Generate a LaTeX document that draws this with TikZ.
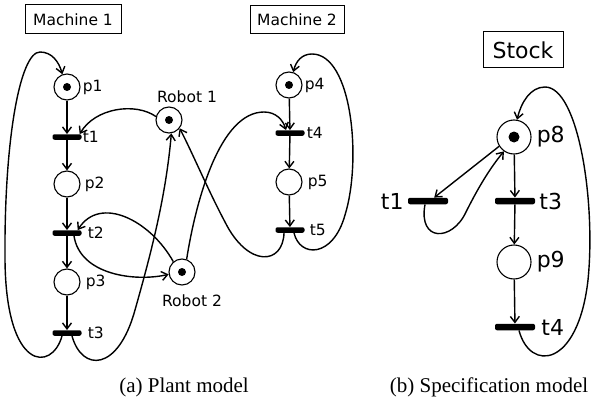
\documentclass[tikz,border=0pt]{standalone}
\usepackage{fontspec}
\setmainfont{Liberation Serif}
\newfontfamily\lblfont{DejaVu Sans}
\usetikzlibrary{arrows.meta}
\begin{document}
\begin{tikzpicture}[x=1pt,y=-1pt,
 place/.style={circle,draw,line width=1.1pt,minimum size=26pt,inner sep=0pt},
 bigplace/.style={place,minimum size=34pt},
 trans/.style={rectangle,fill=black,minimum width=29pt,minimum height=5.5pt,inner sep=0pt,rounded corners=2pt},
 bigtrans/.style={trans,minimum width=40pt,minimum height=6.5pt},
 arc/.style={draw,line width=1.4pt,-{Straight Barb[length=6pt,width=9pt,line width=1.4pt]}},
 lbl/.style={font=\lblfont\fontsize{15.5}{17}\selectfont,inner sep=0pt},
 biglbl/.style={font=\lblfont\fontsize{22}{25}\selectfont,inner sep=0pt},
 titlebox/.style={draw,line width=1pt,inner sep=0pt,font=\lblfont\fontsize{15.5}{17}\selectfont},
 bigtitlebox/.style={titlebox,font=\lblfont\fontsize{22}{25}\selectfont},
 caption/.style={font=\fontsize{21}{24}\selectfont,anchor=base,inner sep=0pt}
]
\useasboundingbox (0,0) rectangle (591,401);

% ---------- Plant model ----------
\node[titlebox,minimum width=96pt,minimum height=29pt] (m1) at (73,19.5) {Machine 1};
\node[titlebox,minimum width=94pt,minimum height=28pt] (m2) at (297,20) {Machine 2};

\node[place] (p1) at (67,87) {};
\node[trans] (t1) at (67,137) {};
\node[place] (p2) at (67,184) {};
\node[trans] (t2) at (67,233) {};
\node[place] (p3) at (67,282) {};
\node[trans] (t3) at (67,333) {};

\node[place] (r1) at (169,120) {};
\node[place] (r2) at (182,272) {};

\node[place] (p4) at (289,85) {};
\node[trans] (t4) at (290,133) {};
\node[place] (p5) at (289,182) {};
\node[trans] (t5) at (290,230) {};

\fill (p1) circle (4pt);
\fill (r1) circle (4pt);
\fill (r2) circle (4pt);
\fill (p4) circle (4pt);

\node[lbl,anchor=west] (lp1) at ([xshift=2pt]p1.east) {p1};
\node[lbl,anchor=west] (lt1) at ([xshift=1pt]t1.east) {t1};
\node[lbl,anchor=west] (lp2) at ([xshift=4pt]p2.east) {p2};
\node[lbl,anchor=west] (lt2) at ([xshift=6pt]t2.east) {t2};
\node[lbl,anchor=west] (lp3) at ([xshift=5pt]p3.east) {p3};
\node[lbl,anchor=west] (lt3) at ([xshift=6pt]t3.east) {t3};
\node[lbl,anchor=west] (lp4) at ([xshift=2pt]p4.east) {p4};
\node[lbl,anchor=west] (lt4) at ([xshift=2pt]t4.east) {t4};
\node[lbl,anchor=west] (lp5) at ([xshift=5pt]p5.east) {p5};
\node[lbl,anchor=west] (lt5) at ([xshift=5pt]t5.east) {t5};
\node[lbl] (lr1) at (187,97) {Robot 1};
\node[lbl] (lr2) at (192,301) {Robot 2};

\draw[arc] (p1) -- (t1);
\draw[arc] (t1) -- (p2);
\draw[arc] (p2) -- (t2);
\draw[arc] (t2) -- (p3);
\draw[arc] (p3) -- (t3);
\draw[arc] (p4) -- (t4);
\draw[arc] (t4) -- (p5);
\draw[arc] (p5) -- (t5);

% Machine 1 loop t3 -> p1
\draw[arc] ([xshift=-5pt]t3.south) .. controls (52,372) and (6,372) .. (5,260)
  .. controls (4,140) and (20,52) .. (40,52)
  .. controls (52,52) and (59,62) .. (p1.110);
% t3 -> Robot 1
\draw[arc] ([xshift=5pt]t3.south) .. controls (82,372) and (118,372) .. (135,310)
  .. controls (152,250) and (166,195) .. (r1.-80);
% Robot 1 -> t1
\draw[arc] (r1.165) .. controls (135,102) and (95,108) .. ([xshift=-2pt]t1.north east);
% t2 -> Robot 2
\draw[arc] ([xshift=7pt]t2.south) .. controls (80,275) and (135,282) .. (r2.190);
% Robot 2 -> t2
\draw[arc] (r2.130) .. controls (150,220) and (100,195) .. ([xshift=-4pt]t2.north east);
% t5 -> Robot 1
\draw[arc] ([xshift=-6pt]t5.south) .. controls (283,265) and (248,268) .. (225,222)
  .. controls (208,190) and (192,152) .. (r1.-38);
% Robot 2 -> t4
\draw[arc] (r2.70) .. controls (196,200) and (220,112) .. (264,112)
  .. controls (276,112) and (283,120) .. ([xshift=-4pt]t4.north);
% Machine 2 loop t5 -> p4
\draw[arc] ([xshift=4pt]t5.south) .. controls (300,258) and (333,258) .. (345,215)
  .. controls (362,160) and (352,54) .. (312,54)
  .. controls (302,54) and (296,61) .. (p4.72);

\node[caption] (capa) at (184,392) {(a) Plant model};

% ---------- Specification model ----------
\node[bigtitlebox,minimum width=80pt,minimum height=36pt] (stock) at (523,50) {Stock};
\node[bigplace] (p8) at (514,137) {};
\node[bigtrans] (t1s) at (428,201) {};
\node[bigtrans] (t3s) at (515,201) {};
\node[bigplace] (p9) at (514,262) {};
\node[bigtrans] (t4s) at (515,327) {};
\fill (p8) circle (5.5pt);

\node[biglbl,anchor=west] (lp8) at ([xshift=5pt]p8.east) {p8};
\node[biglbl,anchor=west] (lt3s) at ([xshift=4pt]t3s.east) {t3};
\node[biglbl,anchor=west] (lp9) at ([xshift=5pt]p9.east) {p9};
\node[biglbl,anchor=west] (lt4s) at ([xshift=6pt]t4s.east) {t4};
\node[biglbl,anchor=east] (lt1s) at ([xshift=-4pt]t1s.west) {t1};

\draw[arc] (p8.212) -- ([xshift=-14pt]t1s.north east);
\draw[arc] ([xshift=-3pt]t1s.south) .. controls (418,242) and (452,242) .. (466,212)
  .. controls (478,188) and (490,168) .. (p8.235);
\draw[arc] (p8) -- (t3s);
\draw[arc] (t3s) -- (p9);
\draw[arc] (p9) -- (t4s);
\draw[arc] ([xshift=4pt]t4s.south) .. controls (530,372) and (578,368) .. (588,280)
  .. controls (596,200) and (578,87) .. (545,87)
  .. controls (530,87) and (521,103) .. (p8.80);

\node[caption] (capb) at (489,392) {(b) Specification model};
\end{tikzpicture}
\end{document}
